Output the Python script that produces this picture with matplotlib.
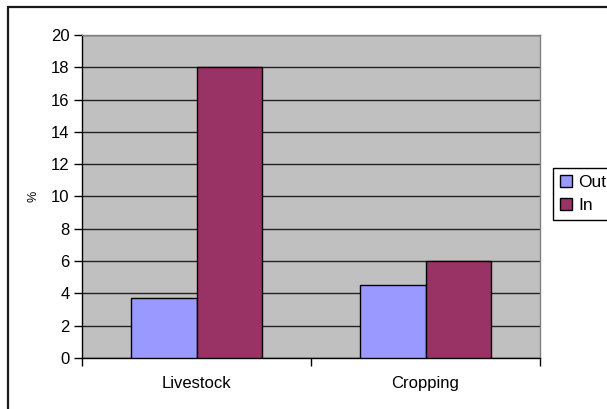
import matplotlib
matplotlib.use("Agg")
import matplotlib.pyplot as plt
from matplotlib.patches import Rectangle
from matplotlib.ticker import FixedLocator
import numpy as np

plt.rcParams['font.family'] = ['Liberation Sans', 'DejaVu Sans']

categories = ["Livestock", "Cropping"]
series_names = ["Out", "In"]
out_values = [3.7, 4.5]
in_values = [18.0, 6.0]
y_ticks = list(range(0, 21, 2))

W, H = 607, 409
fig = plt.figure(figsize=(W / 100, H / 100), dpi=100)
fig.patch.set_facecolor("white")

# chart-area frame (runs off the right and bottom edges)
fig.patches.append(Rectangle((8 / W, -0.1), 1.2, (H - 7.5) / H + 0.1,
                             transform=fig.transFigure, fill=False,
                             edgecolor="#1a1a1a", linewidth=1.6))

ax = fig.add_axes([82 / W, 1 - 358 / H, (540 - 82) / W, (358 - 35) / H])
ax.set_facecolor("#C0C0C0")

x = np.arange(len(categories))
bw = 0.288
ax.bar(x - bw / 2, out_values, width=bw, color="#9999FF", edgecolor="black",
       linewidth=1.0, label=series_names[0], zorder=3)
ax.bar(x + bw / 2, in_values, width=bw, color="#993366", edgecolor="black",
       linewidth=1.0, label=series_names[1], zorder=3)

ax.set_xlim(-0.5, len(categories) - 0.5)
ax.set_ylim(0, 20)
ax.yaxis.set_major_locator(FixedLocator(y_ticks))
ax.yaxis.grid(True, color="#222222", linewidth=1.0, zorder=1)
ax.set_axisbelow(True)

ax.set_xticks(x)
ax.set_xticklabels(categories, fontsize=12)
ax.tick_params(axis="x", which="major", length=0, pad=13)
ax.set_xticks(np.arange(-0.5, len(categories), 1.0), minor=True)
ax.tick_params(axis="x", which="minor", length=6, width=1.0, color="black",
               direction="out")
ax.tick_params(axis="y", length=6, width=1.0, direction="out", pad=3,
               labelsize=12)

for s in ("top", "right"):
    ax.spines[s].set_color("#808080")
    ax.spines[s].set_linewidth(1.0)
for s in ("left", "bottom"):
    ax.spines[s].set_color("black")
    ax.spines[s].set_linewidth(1.0)

ax.set_ylabel("%", fontsize=9, labelpad=8)

leg = fig.legend(loc="upper left", bbox_to_anchor=(553 / W, 1 - 168 / H),
                 bbox_transform=fig.transFigure, frameon=True, fancybox=False,
                 edgecolor="black", framealpha=1, fontsize=12.5,
                 handlelength=0.7, handleheight=0.7, handletextpad=0.35,
                 borderpad=0.4, labelspacing=0.45, borderaxespad=0)
leg.get_frame().set_linewidth(1.0)

fig.savefig("out.png", dpi=100)
